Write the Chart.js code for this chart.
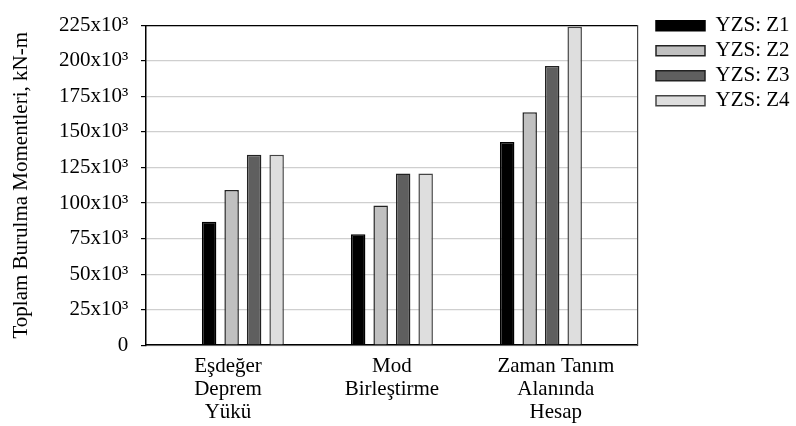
<!DOCTYPE html>
<html>
<head>
<meta charset="utf-8">
<script src="https://cdn.jsdelivr.net/npm/chart.js@4/dist/chart.umd.min.js"></script>
<style>
  html, body { margin: 0; padding: 0; background: #ffffff; }
  #wrap { width: 796px; height: 426px; }
</style>
</head>
<body>
<div id="wrap"><canvas id="chart" width="796" height="426"></canvas></div>
<script>
// Analysis methods (x categories)
const categories = [
  ['Eşdeğer', 'Deprem', 'Yükü'],
  ['Mod', 'Birleştirme'],
  ['Zaman Tanım', 'Alanında', 'Hesap']
];

// Total torsional moments per zone, kN-m
const seriesNames = ['YZS: Z1', 'YZS: Z2', 'YZS: Z3', 'YZS: Z4'];
const valuesZ1 = [86800, 78000, 143000];
const valuesZ2 = [109200, 98200, 163900];
const valuesZ3 = [134000, 120700, 196300];
const valuesZ4 = [134000, 120700, 223900];

// Y axis tick labels, one per 25x10³ step
const yTickValues = [0, 25000, 50000, 75000, 100000, 125000, 150000, 175000, 200000, 225000];
const yTickLabels = ['0', '25x10³', '50x10³', '75x10³', '100x10³', '125x10³', '150x10³', '175x10³', '200x10³', '225x10³'];

const seriesValues = [valuesZ1, valuesZ2, valuesZ3, valuesZ4];
const fills = ['#000000', '#c0c0c0', '#5f5f5f', '#dedede'];
const strokes = ['#000000', '#222222', '#222222', '#444444'];

const FONT = 'Liberation Serif, Times New Roman, serif';
Chart.defaults.font.family = FONT;
Chart.defaults.font.size = 21;
Chart.defaults.color = '#000000';

const datasets = seriesValues.map((vals, s) => ({
  label: seriesNames[s],
  data: vals.map((v, i) => ({ x: i + 1, y: v })),
  backgroundColor: fills[s],
  borderColor: strokes[s],
  borderWidth: 1.5,
  xAxisID: 'xb',
  yAxisID: 'y',
  categoryPercentage: 0.604,
  barPercentage: 0.644
}));

new Chart(document.getElementById('chart'), {
  type: 'bar',
  data: { labels: categories, datasets },
  options: {
    responsive: false,
    devicePixelRatio: 1,
    animation: false,
    layout: { padding: { top: 11.2, left: 0, right: 0, bottom: 0 } },
    plugins: {
      tooltip: { enabled: false },
      legend: {
        position: 'right',
        align: 'start',
        maxWidth: 144,
        labels: {
          boxWidth: 49,
          boxHeight: 10,
          padding: 4,
          font: { size: 21, family: FONT },
          color: '#000000'
        }
      }
    },
    scales: {
      // bar placement axis (hidden)
      xb: {
        type: 'linear',
        axis: 'x',
        position: 'bottom',
        display: false,
        offset: false,
        min: 0.35,
        max: 3.65,
        afterBuildTicks: (s) => { s.ticks = [{ value: 1 }, { value: 2 }, { value: 3 }]; }
      },
      // visible category labels
      x: {
        type: 'category',
        position: 'bottom',
        offset: true,
        grid: { display: false, drawTicks: false },
        border: { display: true, color: '#000000', width: 1.5 },
        ticks: {
          padding: 10,
          maxRotation: 0,
          autoSkip: false,
          font: { size: 21, family: FONT, lineHeight: 1.1 },
          color: '#000000'
        },
        afterFit: (s) => { s.height = 80.8; }
      },
      // top frame line
      xt: {
        type: 'category',
        axis: 'x',
        position: 'top',
        offset: true,
        grid: { display: false, drawTicks: false },
        border: { display: true, color: '#000000', width: 1.2 },
        ticks: { display: false },
        afterFit: (s) => { s.height = 7.5; }
      },
      y: {
        type: 'linear',
        position: 'left',
        min: 0,
        max: 225000,
        afterBuildTicks: (s) => { s.ticks = yTickValues.map(v => ({ value: v })); },
        ticks: {
          padding: 12.7,
          font: { size: 21, family: FONT },
          color: '#000000',
          callback: (value) => yTickLabels[yTickValues.indexOf(value)]
        },
        grid: {
          color: '#cfcfcf',
          lineWidth: 1.2,
          tickLength: 5,
          tickColor: '#000000',
          tickWidth: 1.2
        },
        border: { display: true, color: '#000000', width: 1.5 },
        title: {
          display: true,
          text: 'Toplam Burulma Momentleri, kN-m',
          font: { size: 21, family: FONT },
          color: '#000000',
          padding: { top: 9, bottom: 0 }
        },
        afterFit: (s) => { s.width = 146; }
      },
      // right frame line
      yr: {
        type: 'linear',
        position: 'right',
        min: 0,
        max: 225000,
        grid: { display: false, drawTicks: false },
        border: { display: true, color: '#444444', width: 1.2 },
        ticks: { display: false },
        afterFit: (s) => { s.width = 14.2; }
      }
    }
  }
});
</script>
</body>
</html>
